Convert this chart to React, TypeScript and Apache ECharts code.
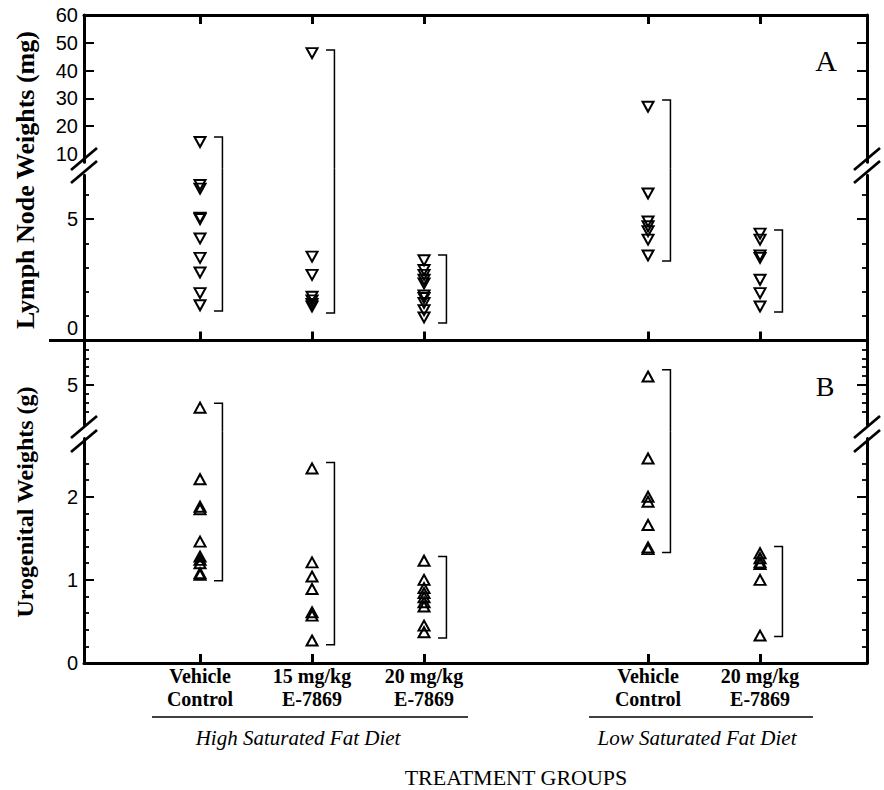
import React, { useEffect, useRef } from 'react';
import * as echarts from 'echarts';

// ---------- data ----------
const groupX = [1, 2, 3, 5, 6];
const groupLabels = ['Vehicle\nControl', '15 mg/kg\nE-7869', '20 mg/kg\nE-7869', 'Vehicle\nControl', '20 mg/kg\nE-7869'];

// Panel A: lymph node weights (mg)
const lymphVehicleHigh = [14.3, 6.4, 6.25, 5.05, 5.0, 4.2, 3.4, 2.8, 1.95, 1.45];
const lymph15High = [46.3, 3.45, 2.7, 1.8, 1.65, 1.5, 1.4];
const lymph20High = [3.3, 2.9, 2.7, 2.5, 2.35, 1.85, 1.75, 1.55, 1.25, 0.95];
const lymphVehicleLow = [27.0, 6.05, 4.9, 4.7, 4.5, 4.15, 3.5];
const lymph20Low = [4.4, 4.15, 3.5, 3.4, 2.5, 1.95, 1.4];
const lymphRangeLow = [1.21, 1.13, 0.72, 3.27, 1.17];
const lymphRangeHigh = [16.1, 47.4, 3.52, 29.4, 4.55];

// Panel B: urogenital weights (g)
const uroVehicleHigh = [4.49, 2.21, 1.88, 1.85, 1.46, 1.28, 1.24, 1.2, 1.08, 1.06];
const uro15High = [2.34, 1.21, 1.04, 0.89, 0.61, 0.57, 0.27];
const uro20High = [1.23, 1.0, 0.9, 0.84, 0.79, 0.73, 0.68, 0.45, 0.37];
const uroVehicleLow = [5.19, 2.46, 2.0, 1.94, 1.66, 1.39, 1.37];
const uro20Low = [1.32, 1.26, 1.21, 1.19, 1.0, 0.33];
const uroRangeLow = [0.99, 0.22, 0.3, 1.33, 0.32];
const uroRangeHigh = [4.59, 2.41, 1.28, 5.34, 1.4];

// tick values
const lymphUpperLabels = [10, 20, 30, 40, 50, 60];
const lymphUpperTicks = [20, 30, 40, 50];
const lymphLowerLabels = [0, 5];
const lymphLowerTicks = [5];
const lymphLowerMinor = [1, 2, 3, 4, 6];
const uroUpperLabels = [5];
const uroUpperTicks = [5];
const uroUpperMinor = [4.4, 4.6, 4.8, 5.2, 5.4, 5.6, 5.8];
const uroLowerLabels = [0, 1, 2];
const uroLowerTicks = [1, 2];
const uroLowerMinor = [0.2, 0.4, 0.6, 0.8, 1.2, 1.4, 1.6, 1.8, 2.2, 2.4];

const lymphGroups = [lymphVehicleHigh, lymph15High, lymph20High, lymphVehicleLow, lymph20Low];
const uroGroups = [uroVehicleHigh, uro15High, uro20High, uroVehicleLow, uro20Low];

// ---------- layout ----------
const LEFT = 84;
const RIGHT = 867;
const X_MIN = -0.036;
const X_MAX = 6.955;
const BR_OFF = 0.2;
const BR_SERIF = 0.075;

const AU = { min: 7, max: 60, ppu: 2.78 };
const AL = { min: 0, max: 6.8, ppu: 24.3 };
const BU = { min: 4.1, max: 6, ppu: 44.5 };
const BL = { min: 0, max: 2.7, ppu: 83.15 };
const auTop = 15;
const auH = (AU.max - AU.min) * AU.ppu;
const alBottom = 340.5;
const alH = (AL.max - AL.min) * AL.ppu;
const alTop = alBottom - alH;
const buTop = 340.5;
const buH = (BU.max - BU.min) * BU.ppu;
const blBottom = 663;
const blH = (BL.max - BL.min) * BL.ppu;
const blTop = blBottom - blH;
const extA = (alTop - (auTop + auH)) / 2;
const extB = (blTop - (buTop + buH)) / 2;

const SANS = "'Liberation Sans', Arial, sans-serif";
const SERIF = "'Liberation Serif', 'Times New Roman', serif";
const AXIS_W = 3;

export default function App() {
  const ref = useRef<HTMLDivElement>(null);

  useEffect(() => {
    if (!ref.current) return;
    const chart = echarts.init(ref.current, undefined, { renderer: 'svg', width: 884, height: 790 });

    const pts = (groups: number[][], pred: (v: number) => boolean) =>
      groups.flatMap((vals, i) => vals.filter(pred).map((v) => [groupX[i], v]));
    const ranges = (lo: number[], hi: number[]) => groupX.map((x, i) => [x, lo[i], hi[i]]);

    const bracketRender = (isUpper: boolean, threshold: number, ext: number) => (params: any, api: any) => {
      const x = api.value(0);
      const lo = api.value(1);
      const hi = api.value(2);
      const cs = params.coordSys;
      const inSeg = (v: number) => (isUpper ? v > threshold : v <= threshold);
      if (!inSeg(lo) && !inSeg(hi)) return null;
      const refV = inSeg(lo) ? lo : hi;
      const xr = api.coord([x + BR_OFF, refV])[0];
      const xs = api.coord([x + BR_OFF - BR_SERIF, refV])[0];
      const yHi = inSeg(hi) ? api.coord([x, hi])[1] : cs.y - ext;
      const yLo = inSeg(lo) ? api.coord([x, lo])[1] : cs.y + cs.height + ext;
      const points: number[][] = [];
      if (inSeg(hi)) points.push([xs, yHi]);
      points.push([xr, yHi]);
      points.push([xr, yLo]);
      if (inSeg(lo)) points.push([xs, yLo]);
      return {
        type: 'polyline',
        shape: { points },
        style: { stroke: '#000', lineWidth: 1.5, fill: null },
      };
    };

    const grids = [
      { top: auTop, height: auH },
      { top: alTop, height: alH },
      { top: buTop, height: buH },
      { top: blTop, height: blH },
    ].map((g) => ({ left: LEFT, width: RIGHT - LEFT, top: g.top, height: g.height, containLabel: false, outerBoundsMode: 'none' }));

    const xAxisOf = (gi: number, pos: string, showLine: boolean, showTicks: boolean, labels: boolean) => ({
      type: 'value',
      gridIndex: gi,
      position: pos,
      min: X_MIN,
      max: X_MAX,
      axisLine: { show: showLine, onZero: false, lineStyle: { color: '#000', width: AXIS_W } },
      axisTick: { show: showTicks, inside: true, length: 9, customValues: groupX, lineStyle: { color: '#000', width: 3 } },
      axisLabel: labels
        ? {
            show: true,
            customValues: groupX,
            formatter: (v: number) => groupLabels[groupX.indexOf(v)] ?? '',
            fontFamily: SERIF,
            fontWeight: 'bold',
            fontSize: 20,
            lineHeight: 23,
            color: '#000',
            margin: 1,
          }
        : { show: false },
      splitLine: { show: false },
    });

    const yAxesOf = (
      gi: number,
      seg: { min: number; max: number },
      labels: number[],
      major: number[],
      minor: number[],
      zeroUp: boolean
    ) => {
      const base = { type: 'value', gridIndex: gi, min: seg.min, max: seg.max, splitLine: { show: false } };
      const labelCfg = {
        show: true,
        customValues: labels,
        fontFamily: SANS,
        fontSize: 20,
        color: '#000',
        margin: 6,
        formatter: (v: number) => (zeroUp && v === 0 ? '{up|0}' : String(v)),
        rich: { up: { padding: [0, 0, 25, 0], fontFamily: SANS, fontSize: 20, color: '#000' } },
      };
      const axes: any[] = [];
      for (const pos of ['left', 'right']) {
        axes.push({
          ...base,
          position: pos,
          axisLine: { show: true, onZero: false, lineStyle: { color: '#000', width: AXIS_W } },
          axisTick: { show: major.length > 0, inside: true, length: 10, customValues: major, lineStyle: { color: '#000', width: 2 } },
          axisLabel: pos === 'left' ? labelCfg : { show: false },
        });
        axes.push({
          ...base,
          position: pos,
          axisLine: { show: false, onZero: false },
          axisTick: { show: minor.length > 0, inside: true, length: 5, customValues: minor.length ? minor : [seg.min], lineStyle: { color: '#000', width: 1.8 } },
          axisLabel: { show: false },
        });
      }
      return axes;
    };

    const scatterOf = (gi: number, data: number[][], down: boolean) => ({
      type: 'scatter',
      xAxisIndex: gi,
      yAxisIndex: gi * 4,
      data,
      symbol: 'triangle',
      symbolRotate: down ? 180 : 0,
      symbolSize: [11, 10],
      itemStyle: { color: 'rgba(0,0,0,0)', borderColor: '#000', borderWidth: 2, opacity: 1 },
      silent: true,
      z: 3,
    });

    const bracketOf = (gi: number, data: number[][], isUpper: boolean, threshold: number, ext: number) => ({
      type: 'custom',
      xAxisIndex: gi,
      yAxisIndex: gi * 4,
      data,
      renderItem: bracketRender(isUpper, threshold, ext),
      silent: true,
      clip: false,
      z: 2,
    });

    const slash = (cx: number, cy: number) => ({
      type: 'line',
      shape: { x1: cx - 13, y1: cy + 11, x2: cx + 13, y2: cy - 11 },
      style: { stroke: '#000', lineWidth: 2.8 },
      z: 10,
    });

    const lymphR = ranges(lymphRangeLow, lymphRangeHigh);
    const uroR = ranges(uroRangeLow, uroRangeHigh);

    const option: any = {
      animation: false,
      backgroundColor: '#fff',
      grid: grids,
      xAxis: [
        xAxisOf(0, 'top', true, true, false),
        xAxisOf(1, 'bottom', true, true, false),
        xAxisOf(2, 'top', false, false, false),
        xAxisOf(3, 'bottom', true, true, true),
      ],
      yAxis: [
        ...yAxesOf(0, AU, lymphUpperLabels, lymphUpperTicks, [], false),
        ...yAxesOf(1, AL, lymphLowerLabels, lymphLowerTicks, lymphLowerMinor, true),
        ...yAxesOf(2, BU, uroUpperLabels, uroUpperTicks, uroUpperMinor, false),
        ...yAxesOf(3, BL, uroLowerLabels, uroLowerTicks, uroLowerMinor, false),
      ],
      series: [
        scatterOf(0, pts(lymphGroups, (v) => v > 7), true),
        scatterOf(1, pts(lymphGroups, (v) => v <= 7), true),
        scatterOf(2, pts(uroGroups, (v) => v > 3), false),
        scatterOf(3, pts(uroGroups, (v) => v <= 3), false),
        bracketOf(0, lymphR, true, 7, extA),
        bracketOf(1, lymphR, false, 7, extA),
        bracketOf(2, uroR, true, 3, extB),
        bracketOf(3, uroR, false, 3, extB),
      ],
      graphic: [
        { type: 'line', shape: { x1: 49, y1: 340.5, x2: LEFT, y2: 340.5 }, style: { stroke: '#000', lineWidth: AXIS_W } },
        slash(LEFT, 159),
        slash(LEFT, 172),
        slash(RIGHT, 159),
        slash(RIGHT, 172),
        slash(LEFT, 427),
        slash(LEFT, 441),
        slash(RIGHT, 427),
        slash(RIGHT, 441),
        {
          type: 'text', x: 826, y: 60,
          style: { text: 'A', fontFamily: SERIF, fontSize: 30, fill: '#000', align: 'center', verticalAlign: 'middle' },
        },
        {
          type: 'text', x: 825, y: 386,
          style: { text: 'B', fontFamily: SERIF, fontSize: 28, fill: '#000', align: 'center', verticalAlign: 'middle' },
        },
        {
          type: 'text', x: 25, y: 180, rotation: Math.PI / 2,
          style: { text: 'Lymph Node Weights (mg)', fontFamily: SERIF, fontWeight: 'bold', fontSize: 26, fill: '#000', align: 'center', verticalAlign: 'middle' },
        },
        {
          type: 'text', x: 25, y: 502, rotation: Math.PI / 2,
          style: { text: 'Urogenital Weights (g)', fontFamily: SERIF, fontWeight: 'bold', fontSize: 24, fill: '#000', align: 'center', verticalAlign: 'middle' },
        },
        { type: 'line', shape: { x1: 152, y1: 717, x2: 468, y2: 717 }, style: { stroke: '#000', lineWidth: 1.6 } },
        { type: 'line', shape: { x1: 589, y1: 717, x2: 813, y2: 717 }, style: { stroke: '#000', lineWidth: 1.6 } },
        {
          type: 'text', x: 298, y: 738,
          style: { text: 'High Saturated Fat Diet', fontFamily: SERIF, fontStyle: 'italic', fontSize: 21, fill: '#000', align: 'center', verticalAlign: 'middle' },
        },
        {
          type: 'text', x: 697, y: 738,
          style: { text: 'Low Saturated Fat Diet', fontFamily: SERIF, fontStyle: 'italic', fontSize: 21, fill: '#000', align: 'center', verticalAlign: 'middle' },
        },
        {
          type: 'text', x: 516, y: 777,
          style: { text: 'TREATMENT GROUPS', fontFamily: SERIF, fontSize: 22, fill: '#000', align: 'center', verticalAlign: 'middle' },
        },
      ],
    };

    chart.setOption(option);
    return () => chart.dispose();
  }, []);

  return <div ref={ref} style={{ position: 'fixed', left: 0, top: 0, width: 884, height: 790, background: '#fff' }} />;
}
